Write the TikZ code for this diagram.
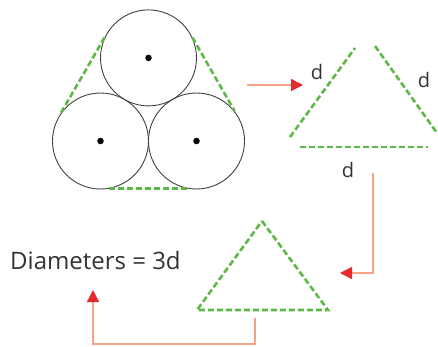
\documentclass[tikz,border=0pt]{standalone}
\usepackage{fontspec}
\setmainfont{Open Sans}
\usetikzlibrary{arrows.meta}
\definecolor{dashgreen}{HTML}{5DB947}
\definecolor{linkorange}{HTML}{F4A486}
\definecolor{tipred}{HTML}{E42B2B}
\tikzset{
  rope/.style={circle,draw=black!75,line width=0.9pt,minimum size=96pt,inner sep=0pt},
  hub/.style={circle,fill=black,minimum size=6.5pt,inner sep=0pt},
  side/.style={dashgreen,line width=2.6pt,dash pattern=on 6pt off 3pt},
  link/.style={linkorange,line width=1.3pt,-{Triangle[length=12pt,width=12pt,color=tipred]}},
  lbl/.style={font=\fontsize{20}{24}\selectfont,text=black!80,inner sep=0pt}
}
\begin{document}
\begin{tikzpicture}[x=1pt,y=-1pt]
\useasboundingbox (0,0) rectangle (438,346);
% three ropes
\node[rope] (top) at (148.5,57.9) {};
\node[rope] (bl) at (100.5,141) {};
\node[rope] (br) at (196.5,141) {};
\node[hub] (topc) at (top.center) {};
\node[hub] (blc) at (bl.center) {};
\node[hub] (brc) at (br.center) {};
\draw[side] (top.155) -- (bl.145);
\draw[side] (top.25) -- (br.38);
\draw[side] (bl.-80) -- (br.-100);
% open triangle with sides d
\draw[side] (290,137) -- (355,48);
\draw[side] (375,46) -- (437,133);
\draw[side] (300,147) -- (428,147);
\node[lbl] (dleft) at (317,72) {d};
\node[lbl] (dright) at (424,80) {d};
\node[lbl] (dbottom) at (348,170) {d};
% closed triangle
\draw[side] (262,221) -- (328,310) -- (197,310) -- cycle;
\node[lbl,font=\fontsize{24}{28}\selectfont,anchor=west] (sum) at (10,260) {Diameters = 3d};
% connectors
\coordinate (s1) at (247,85);
\coordinate (e1) at (303,85);
\coordinate (s2) at (373,173);
\coordinate (e2) at (340,273);
\coordinate (s3) at (255,318);
\coordinate (e3) at (93,290);
\draw[link] (s1) -- (e1);
\draw[link] (s2) |- (e2);
\draw[link] (s3) -- (255,344) -| (e3);
\end{tikzpicture}
\end{document}
